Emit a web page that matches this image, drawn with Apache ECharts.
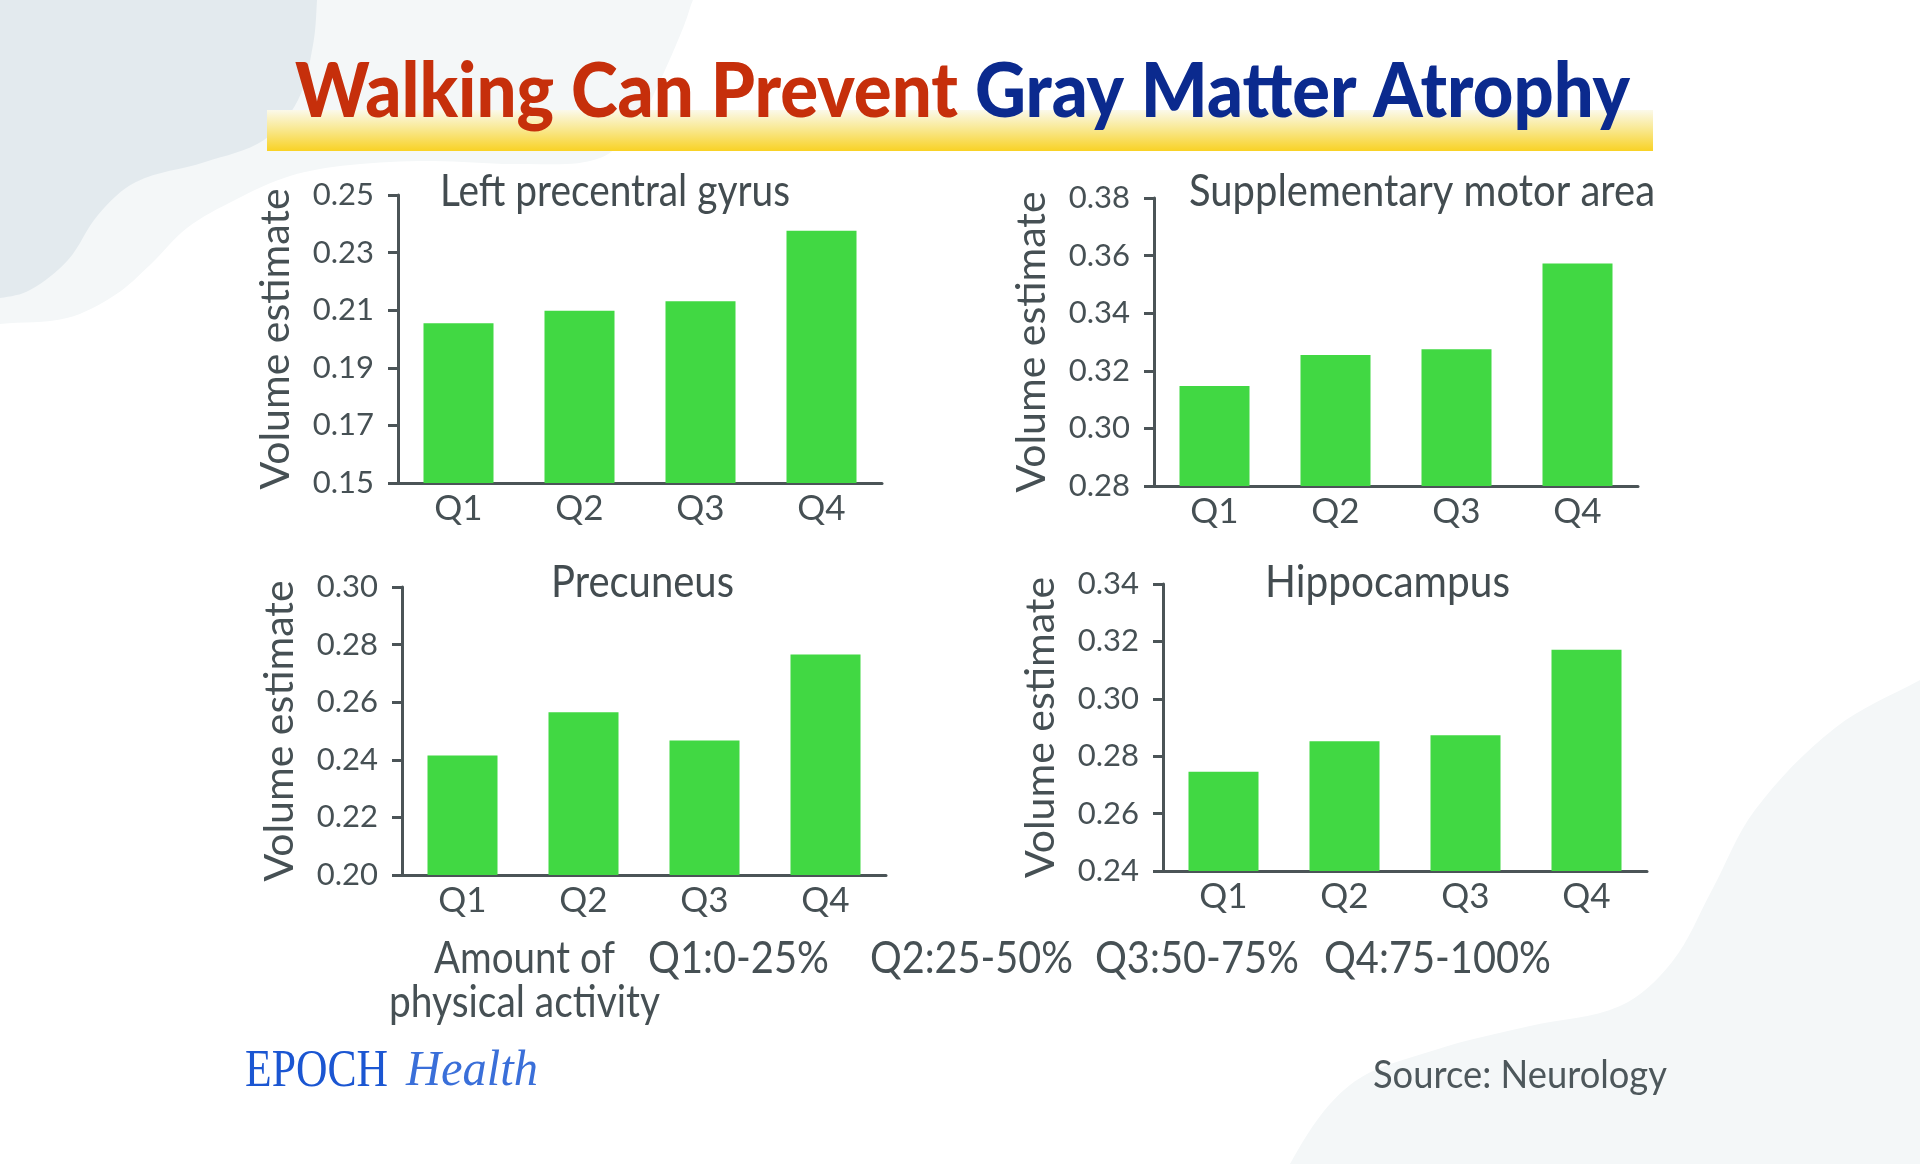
<!DOCTYPE html>
<html>
<head>
<meta charset="utf-8">
<script src="https://cdn.jsdelivr.net/npm/echarts@6/dist/echarts.min.js"></script>
<style>
  html, body { margin: 0; padding: 0; background: #ffffff; }
  #chart { width: 1920px; height: 1164px; }
</style>
</head>
<body>
<div id="chart"></div>
<script>
// ---------------- data ----------------
const categories = ['Q1', 'Q2', 'Q3', 'Q4'];
const panelTitles = ['Left precentral gyrus', 'Supplementary motor area', 'Precuneus', 'Hippocampus'];
const leftPrecentralGyrus = [0.2055, 0.2098, 0.2131, 0.2376];
const supplementaryMotorArea = [0.3147, 0.3255, 0.3275, 0.3573];
const precuneus = [0.2415, 0.2565, 0.2467, 0.2766];
const hippocampus = [0.2746, 0.2852, 0.2873, 0.3171];
const yMin = [0.15, 0.28, 0.20, 0.24];
const yMax = [0.25, 0.38, 0.30, 0.34];
const yStep = [0.02, 0.02, 0.02, 0.02];
const yAxisTitle = 'Volume estimate';
const mainTitleRed = 'Walking Can Prevent';
const mainTitleBlue = 'Gray Matter Atrophy';
const activityLabel = ['Amount of', 'physical activity'];
const quartileRanges = ['Q1:0-25%', 'Q2:25-50%', 'Q3:50-75%', 'Q4:75-100%'];
const sourceText = 'Source: Neurology';
const logoWords = ['EPOCH', 'Health'];

const seriesValues = [leftPrecentralGyrus, supplementaryMotorArea, precuneus, hippocampus];

// ---------------- layout / style ----------------
const TEXT = '#465054';
const AXIS = '#4b5457';
const BAR = '#41d843';
const FONT = 'Lato, "Noto Sans", sans-serif';

const grids = [
  { left: 398, top: 195, width: 484, height: 288 },
  { left: 1154, top: 198, width: 484, height: 288 },
  { left: 402, top: 587, width: 484, height: 288 },
  { left: 1163, top: 584, width: 484, height: 287 }
];

const mctx = document.createElement('canvas').getContext('2d');
function fitText(text, font, left, midY, targetWidth, fill, z) {
  mctx.font = font;
  const w = mctx.measureText(text).width;
  return {
    type: 'text', x: left, y: midY, scaleX: targetWidth / w, z: z || 10,
    style: { text: text, font: font, fill: fill, align: 'left', verticalAlign: 'middle',
             textAlign: 'left', textVerticalAlign: 'middle' }
  };
}

const graphics = [];
// background blobs
graphics.push({
  type: 'polygon', z: -20, silent: true,
  shape: { smooth: 0.35, points: [[-40,-40],[700,-40],[690,8],[676,45],[658,85],[640,120],[600,158],[520,164],[430,161],[350,165],[290,176],[235,200],[187,228],[150,265],[115,295],[67,318],[0,324],[-40,330]] },
  style: { fill: '#f4f7f8' }
});
graphics.push({
  type: 'polygon', z: -19, silent: true,
  shape: { smooth: 0.35, points: [[-40,-40],[318,-40],[317,0],[313,45],[298,100],[264,140],[205,162],[136,182],[98,215],[68,260],[30,290],[0,298],[-40,300]] },
  style: { fill: '#e3eaee' }
});
graphics.push({
  type: 'polygon', z: -20, silent: true,
  shape: { smooth: 0.35, points: [[1960,660],[1920,680],[1835,728],[1755,810],[1712,890],[1672,962],[1620,1006],[1530,1026],[1435,1050],[1350,1085],[1290,1164],[1280,1210],[1960,1210]] },
  style: { fill: '#f4f7f8' }
});
// title highlight bar
graphics.push({
  type: 'rect', z: -5, silent: true,
  shape: { x: 267, y: 110, width: 1386, height: 41 },
  style: { fill: new echarts.graphic.LinearGradient(0, 0, 0, 1, [
    { offset: 0, color: '#fbf9ea' },
    { offset: 0.45, color: '#f9e994' },
    { offset: 1, color: '#f9d225' }
  ]) }
});
// main title
graphics.push(fitText(mainTitleRed, '900 76px ' + FONT, 295, 92.5, 663, '#c62f0b', 20));
graphics.push(fitText(mainTitleBlue, '900 76px ' + FONT, 975, 92.5, 655, '#0b2a8e', 20));
// panel titles
const titleSpecs = [[440, 192, 350], [1189, 192, 466], [551, 583, 183], [1265, 583, 245]];
panelTitles.forEach(function (t, i) {
  graphics.push(fitText(t, '44px ' + FONT, titleSpecs[i][0], titleSpecs[i][1], titleSpecs[i][2], '#434c50', 20));
});
// bottom explanation
graphics.push(fitText(activityLabel[0], '44px ' + FONT, 434, 959, 181, TEXT, 20));
graphics.push(fitText(activityLabel[1], '44px ' + FONT, 389, 1003, 271, TEXT, 20));
const rangeSpecs = [[648, 181], [870, 203], [1095, 204], [1324, 227]];
quartileRanges.forEach(function (t, i) {
  graphics.push(fitText(t, '44px ' + FONT, rangeSpecs[i][0], 959, rangeSpecs[i][1], TEXT, 20));
});
// source + logo
graphics.push(fitText(sourceText, '39px ' + FONT, 1373, 1075, 294, '#4d575b', 20));
graphics.push(fitText(logoWords[0], '52px "Liberation Serif", "DejaVu Serif", serif', 245, 1072, 143, '#1b56d2', 20));
graphics.push(fitText(logoWords[1], 'italic 50px "Liberation Serif", "DejaVu Serif", serif', 406, 1072, 132, '#3a6fd9', 20));

const xAxes = [], yAxes = [], series = [];
for (let i = 0; i < 4; i++) {
  xAxes.push({
    type: 'category', gridIndex: i, data: categories,
    axisLine: { lineStyle: { color: AXIS, width: 3 } },
    axisTick: { show: false },
    axisLabel: { color: TEXT, fontSize: 35, fontFamily: FONT, margin: 8 }
  });
  yAxes.push({
    type: 'value', gridIndex: i, min: yMin[i], max: yMax[i], interval: yStep[i],
    name: yAxisTitle, nameLocation: 'middle', nameRotate: 90, nameGap: 102,
    nameTextStyle: { color: TEXT, fontSize: 41, fontFamily: FONT },
    axisLine: { show: true, lineStyle: { color: AXIS, width: 3 } },
    axisTick: { show: true, length: 10, lineStyle: { color: AXIS, width: 3 } },
    splitLine: { show: false },
    axisLabel: { color: TEXT, fontSize: 31, fontFamily: FONT, margin: 24,
      formatter: function (v) { return v.toFixed(2); } }
  });
  series.push({
    type: 'bar', xAxisIndex: i, yAxisIndex: i, data: seriesValues[i],
    barWidth: 70, itemStyle: { color: BAR }, silent: true
  });
}

const chart = echarts.init(document.getElementById('chart'), null, { renderer: 'canvas' });
chart.setOption({
  animation: false,
  backgroundColor: '#ffffff',
  grid: grids,
  xAxis: xAxes,
  yAxis: yAxes,
  series: series,
  graphic: graphics
});
</script>
</body>
</html>
